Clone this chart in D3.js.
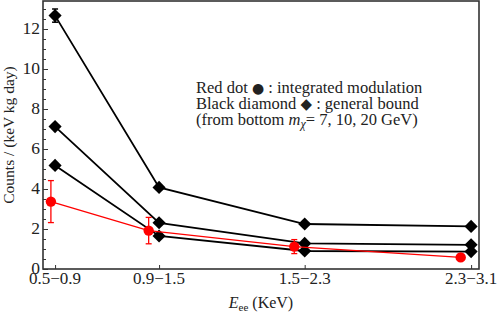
<!DOCTYPE html>
<html>
<head>
<meta charset="utf-8">
<script src="https://cdn.jsdelivr.net/npm/d3@7"></script>
<style>
  body { margin: 0; background: #fff; }
  svg { display: block; font-family: "Liberation Serif", "DejaVu Serif", serif; }
</style>
</head>
<body>
<svg id="chart" width="499" height="314"></svg>
<script>
// bins (centre energies in keV) and their labels
const binLabels = ['0.5\u22120.9', '0.9\u22121.5', '1.5\u22122.3', '2.3\u22123.1'];
const binCenters = [0.7, 1.2, 1.9, 2.7];

// red dots: integrated modulation (drawn slightly left of the bin centre)
const redX = [0.68, 1.15, 1.85, 2.65];
const redY = [3.37, 1.92, 1.12, 0.58];
const redErr = [1.05, 0.66, 0.35, 0.1];

// black diamonds: general bound, m_chi = 7, 10, 20 GeV
const bound7 = [5.18, 1.65, 0.9, 0.87];
const bound10 = [7.12, 2.31, 1.28, 1.21];
const bound20 = [12.67, 4.08, 2.25, 2.13];
const bound20Err = [0.33, 0, 0, 0];

const yMajor = [0, 2, 4, 6, 8, 10, 12];

const svg = d3.select('#chart');
const margin = { left: 43, right: 20, top: 1, bottom: 45 };
const width = +svg.attr('width');
const height = +svg.attr('height');

const x = d3.scaleLinear()
    .domain([0.642, 2.738])
    .range([margin.left, width - margin.right]);
const y = d3.scaleLinear()
    .domain([0, 13.4])
    .range([height - margin.bottom, margin.top]);

// frame
svg.append('rect')
    .attr('x', x.range()[0])
    .attr('y', y.range()[1])
    .attr('width', x.range()[1] - x.range()[0])
    .attr('height', y.range()[0] - y.range()[1])
    .attr('fill', 'none')
    .attr('stroke', '#333')
    .attr('stroke-width', 1.6);

// y axis, ticks pointing inward
let yMinor = d3.range(0, 13.01, 0.5).filter(v => yMajor.indexOf(v) < 0);
let yAxis = svg.append('g').attr('transform', `translate(${margin.left},0)`);
yAxis.call(d3.axisRight(y).tickValues(yMajor).tickSize(5).tickFormat(''));
yAxis.append('g').call(d3.axisRight(y).tickValues(yMinor).tickSize(3).tickFormat(''));
yAxis.selectAll('.domain').remove();
yAxis.selectAll('line').attr('stroke', '#333');
svg.append('g').selectAll('text')
    .data(yMajor)
    .join('text')
    .attr('x', margin.left - 3)
    .attr('y', d => y(d) + 5)
    .attr('text-anchor', 'end')
    .attr('font-size', 17.5)
    .attr('fill', '#222')
    .text(d => d);

// x axis, ticks pointing inward
let xAxis = svg.append('g').attr('transform', `translate(0,${height - margin.bottom})`);
xAxis.call(d3.axisTop(x).tickValues(binCenters).tickSize(4).tickFormat(''));
xAxis.selectAll('.domain').remove();
xAxis.selectAll('line').attr('stroke', '#333');
svg.append('g').selectAll('text')
    .data(binCenters)
    .join('text')
    .attr('x', d => x(d))
    .attr('y', height - margin.bottom + 15)
    .attr('text-anchor', 'middle')
    .attr('font-size', 17)
    .attr('fill', '#222')
    .text((d, i) => binLabels[i]);

// axis titles
let xTitle = svg.append('text')
    .attr('x', 261)
    .attr('y', 308)
    .attr('text-anchor', 'middle')
    .attr('font-size', 16)
    .attr('fill', '#222');
xTitle.append('tspan').attr('font-style', 'italic').text('E');
xTitle.append('tspan').attr('font-size', 11).attr('dy', 3).text('ee');
xTitle.append('tspan').attr('dy', -3).text(' (KeV)');

svg.append('text')
    .attr('transform', `translate(14,${(y.range()[0] + y.range()[1]) / 2}) rotate(-90)`)
    .attr('text-anchor', 'middle')
    .attr('font-size', 15.5)
    .attr('fill', '#222')
    .text('Counts / (keV kg day)');

const line = d3.line();
const diamond = d3.symbol().type(d3.symbolDiamond2).size(110);

// black series
[bound7, bound10, bound20].forEach(vals => {
    let pts = vals.map((v, i) => [x(binCenters[i]), y(v)]);
    svg.append('path')
        .attr('d', line(pts))
        .attr('fill', 'none')
        .attr('stroke', '#000')
        .attr('stroke-width', 1.8);
    svg.append('g').selectAll('path')
        .data(pts)
        .join('path')
        .attr('transform', d => `translate(${d[0]},${d[1]})`)
        .attr('d', diamond)
        .attr('fill', '#000');
});

// error bar on the top series
bound20.forEach((v, i) => {
    if (!bound20Err[i]) return;
    let cx = x(binCenters[i]);
    let g = svg.append('g').attr('stroke', '#000').attr('stroke-width', 1.5);
    g.append('line').attr('x1', cx).attr('x2', cx).attr('y1', y(v - bound20Err[i])).attr('y2', y(v + bound20Err[i]));
    [v - bound20Err[i], v + bound20Err[i]].forEach(e => {
        g.append('line').attr('x1', cx - 3).attr('x2', cx + 3).attr('y1', y(e)).attr('y2', y(e));
    });
});

// red series
let redPts = redY.map((v, i) => [x(redX[i]), y(v)]);
svg.append('path')
    .attr('d', line(redPts))
    .attr('fill', 'none')
    .attr('stroke', '#f00')
    .attr('stroke-width', 1.3);
redY.forEach((v, i) => {
    let cx = x(redX[i]);
    let g = svg.append('g').attr('stroke', '#f00').attr('stroke-width', 1.3);
    g.append('line').attr('x1', cx).attr('x2', cx).attr('y1', y(v - redErr[i])).attr('y2', y(v + redErr[i]));
    [v - redErr[i], v + redErr[i]].forEach(e => {
        g.append('line').attr('x1', cx - 3).attr('x2', cx + 3).attr('y1', y(e)).attr('y2', y(e));
    });
});
svg.append('g').selectAll('circle')
    .data(redPts)
    .join('circle')
    .attr('cx', d => d[0])
    .attr('cy', d => d[1])
    .attr('r', 5.2)
    .attr('fill', '#f00');

// legend text
let legend = svg.append('g')
    .attr('font-size', 16.5)
    .attr('fill', '#222');
let l1 = legend.append('text').attr('x', 196).attr('y', 93);
l1.append('tspan').text('Red dot ');
l1.append('tspan').attr('font-family', 'DejaVu Sans').attr('font-size', 14).text('\u25CF');
l1.append('tspan').text(' : integrated modulation');
let l2 = legend.append('text').attr('x', 196).attr('y', 109);
l2.append('tspan').text('Black diamond ');
l2.append('tspan').attr('font-family', 'DejaVu Sans').attr('font-size', 15).text('\u25C6');
l2.append('tspan').text(' : general bound');
let l3 = legend.append('text').attr('x', 196).attr('y', 125);
l3.append('tspan').text('(from bottom ');
l3.append('tspan').attr('font-style', 'italic').text('m');
l3.append('tspan').attr('font-style', 'italic').attr('font-size', 12).attr('dy', 3).text('\u03C7');
l3.append('tspan').attr('dy', -3).text('= 7, 10, 20 GeV)');
</script>
</body>
</html>
